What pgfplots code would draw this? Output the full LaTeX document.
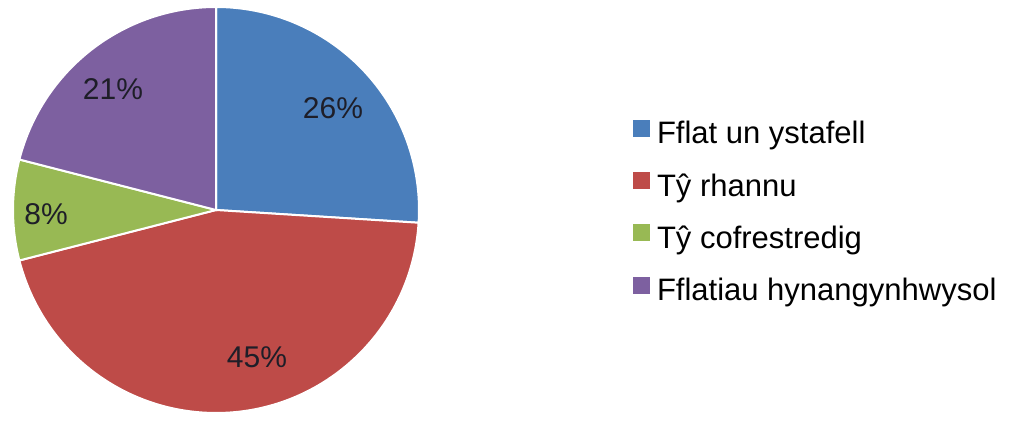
\documentclass[border=0pt]{standalone}
\usepackage{pgfplots}
\pgfplotsset{compat=1.18}
\usepackage{pgfplotstable}
\usepackage{fontspec}
\setmainfont{Liberation Sans}
\definecolor{pieblue}{HTML}{4A7EBB}
\definecolor{piered}{HTML}{BE4B48}
\definecolor{piegreen}{HTML}{98B954}
\definecolor{piepurple}{HTML}{7D60A0}
\definecolor{labeltext}{HTML}{1E1E28}

\pgfplotstableread{
share
26
45
8
21
}\piedata

\begin{document}
\begin{tikzpicture}
\pgfplotstablegetelem{0}{share}\of\piedata \let\vA\pgfplotsretval
\pgfplotstablegetelem{1}{share}\of\piedata \let\vB\pgfplotsretval
\pgfplotstablegetelem{2}{share}\of\piedata \let\vC\pgfplotsretval
\pgfplotstablegetelem{3}{share}\of\piedata \let\vD\pgfplotsretval
\pgfmathsetmacro{\aA}{90}
\pgfmathsetmacro{\aB}{\aA-3.6*\vA}
\pgfmathsetmacro{\aC}{\aB-3.6*\vB}
\pgfmathsetmacro{\aD}{\aC-3.6*\vC}
\pgfmathsetmacro{\aE}{\aD-3.6*\vD}
\begin{axis}[
  x=0.5pt, y=0.5pt,
  xmin=0, xmax=1014, ymin=0, ymax=422,
  hide axis, clip=false,
  legend cell align=left,
  legend image code/.code={\fill (0pt,-0.5pt) rectangle (8.5pt,8pt);},
  legend style={at={(axis cs:633,302)}, anchor=north west, draw=none, fill=none,
    inner sep=0pt, outer sep=0pt, row sep=10.6pt, column sep=3.5pt,
    font=\fontsize{15.5}{18}\selectfont,
    nodes={inner sep=0pt, text height=11.5pt, text depth=3.5pt}},
]
\addlegendimage{fill=pieblue, draw=none}
\addlegendentry{Fflat un ystafell}
\addlegendimage{fill=piered, draw=none}
\addlegendentry{Tŷ rhannu}
\addlegendimage{fill=piegreen, draw=none}
\addlegendentry{Tŷ cofrestredig}
\addlegendimage{fill=piepurple, draw=none}
\addlegendentry{Fflatiau hynangynhwysol}

\filldraw[fill=pieblue, draw=white, line width=1pt] (axis cs:216,212) -- ++(\aA:101.5pt) arc[start angle=\aA, end angle=\aB, radius=101.5pt] -- cycle;
\filldraw[fill=piered, draw=white, line width=1pt] (axis cs:216,212) -- ++(\aB:101.5pt) arc[start angle=\aB, end angle=\aC, radius=101.5pt] -- cycle;
\filldraw[fill=piegreen, draw=white, line width=1pt] (axis cs:216,212) -- ++(\aC:101.5pt) arc[start angle=\aC, end angle=\aD, radius=101.5pt] -- cycle;
\filldraw[fill=piepurple, draw=white, line width=1pt] (axis cs:216,212) -- ++(\aD:101.5pt) arc[start angle=\aD, end angle=\aE, radius=101.5pt] -- cycle;

\node[text=labeltext, font=\fontsize{15}{18}\selectfont] at (axis cs:333,314) {26\%};
\node[text=labeltext, font=\fontsize{15}{18}\selectfont] at (axis cs:257,65) {45\%};
\node[text=labeltext, font=\fontsize{15}{18}\selectfont] at (axis cs:46,208) {8\%};
\node[text=labeltext, font=\fontsize{15}{18}\selectfont] at (axis cs:113,333) {21\%};
\end{axis}
\pgfresetboundingbox
\useasboundingbox (0,0) rectangle (507pt,211pt);
\end{tikzpicture}
\end{document}
